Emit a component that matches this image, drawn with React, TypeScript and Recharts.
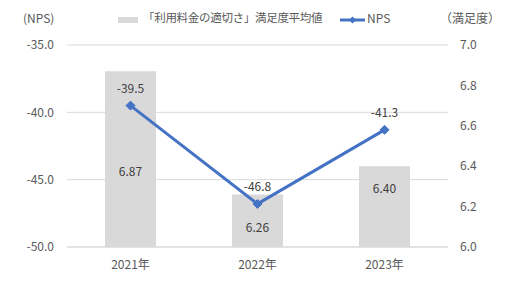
import React from 'react';
import { ComposedChart, Bar, Line, XAxis, YAxis, CartesianGrid, Legend, LabelList } from 'recharts';

const years = ['2021年', '2022年', '2023年'];
const satisfaction = [6.87, 6.26, 6.4];
const nps = [-39.5, -46.8, -41.3];
const npsTicks = [-50, -45, -40, -35];
const satTicks = [6.0, 6.2, 6.4, 6.6, 6.8, 7.0];

// manual nudges for the bar value labels (the original moved them off the line)
const barLabelDy = [11, 6, -19];

const FONT = '"Noto Sans CJK JP", "Noto Sans", sans-serif';
const TEXT = '#595959';
const GRID = '#d9d9d9';
const BAR = '#d9d9d9';
const LINE = '#4472c4';

const data = years.map((y, i) => ({ name: y, sat: satisfaction[i], nps: nps[i] }));

const Diamond = (props: any) => {
  const { cx, cy } = props;
  if (cx == null || cy == null) return null;
  const r = 4.5;
  return <path d={`M${cx},${cy - r}L${cx + r},${cy}L${cx},${cy + r}L${cx - r},${cy}Z`} fill={LINE} stroke={LINE} />;
};

const BarValue = (props: any) => {
  const { x, y, width, height, value, index } = props;
  return (
    <text
      x={x + width / 2}
      y={y + height / 2 + (barLabelDy[index] || 0)}
      textAnchor="middle"
      dominantBaseline="central"
      fontSize={12}
      fill="#404040"
      fontFamily={FONT}
    >
      {Number(value).toFixed(2)}
    </text>
  );
};

const LegendContent = () => (
  <div style={{ position: 'relative', width: 509, height: 30, fontFamily: FONT, color: TEXT }}>
    <span style={{ position: 'absolute', left: 23, top: 9, fontSize: 12 }}>(NPS)</span>
    <span style={{ position: 'absolute', left: 118, top: 17, width: 20, height: 6, background: BAR }} />
    <span style={{ position: 'absolute', left: 143, top: 9, fontSize: 11.5, whiteSpace: 'nowrap', letterSpacing: -0.3 }}>
      「利用料金の適切さ」満足度平均値
    </span>
    <svg style={{ position: 'absolute', left: 340, top: 15 }} width={25} height={10}>
      <line x1={0} y1={5} x2={25} y2={5} stroke={LINE} strokeWidth={3} />
      <path d="M12.5,1.5L16,5L12.5,8.5L9,5Z" fill={LINE} />
    </svg>
    <span style={{ position: 'absolute', left: 367, top: 9, fontSize: 12 }}>NPS</span>
    <span style={{ position: 'absolute', left: 440, top: 9, fontSize: 12, whiteSpace: 'nowrap' }}>（満足度）</span>
  </div>
);

const App: React.FC = () => {
  return (
    <div style={{ position: 'absolute', left: 0, top: 0, width: 509, height: 285, background: '#fff' }}>
      <ComposedChart
        width={509}
        height={285}
        data={data}
        margin={{ top: 15, right: 0, left: 0, bottom: 0 }}
        style={{ fontFamily: FONT }}
      >
        <CartesianGrid vertical={false} stroke={GRID} yAxisId="nps" />
        <XAxis
          dataKey="name"
          height={38}
          axisLine={{ stroke: GRID }}
          tickLine={false}
          tickSize={0}
          tickMargin={13}
          tick={{ fontSize: 12, fill: TEXT }}
        />
        <YAxis
          yAxisId="nps"
          orientation="left"
          width={67}
          domain={[-50, -35]}
          ticks={npsTicks}
          tickFormatter={(v: number) => v.toFixed(1)}
          axisLine={false}
          tickLine={false}
          tickSize={0}
          tickMargin={13}
          tick={{ fontSize: 12, fill: TEXT }}
        />
        <YAxis
          yAxisId="sat"
          orientation="right"
          width={61}
          domain={[6, 7]}
          ticks={satTicks}
          tickFormatter={(v: number) => v.toFixed(1)}
          axisLine={false}
          tickLine={false}
          tickSize={0}
          tickMargin={12}
          tick={{ fontSize: 12, fill: TEXT }}
        />
        <Legend verticalAlign="top" height={30} wrapperStyle={{ top: 0, left: 0, width: 509 }} content={<LegendContent />} />
        <Bar yAxisId="sat" dataKey="sat" fill={BAR} barSize={51} isAnimationActive={false}>
          <LabelList dataKey="sat" content={<BarValue />} />
        </Bar>
        <Line
          yAxisId="nps"
          dataKey="nps"
          stroke={LINE}
          strokeWidth={3}
          dot={<Diamond />}
          activeDot={false}
          isAnimationActive={false}
        >
          <LabelList
            dataKey="nps"
            position="top"
            offset={13}
            formatter={(v: any) => Number(v).toFixed(1)}
            style={{ fontSize: 12, fill: '#404040', fontFamily: FONT }}
          />
        </Line>
      </ComposedChart>
    </div>
  );
};

export default App;
